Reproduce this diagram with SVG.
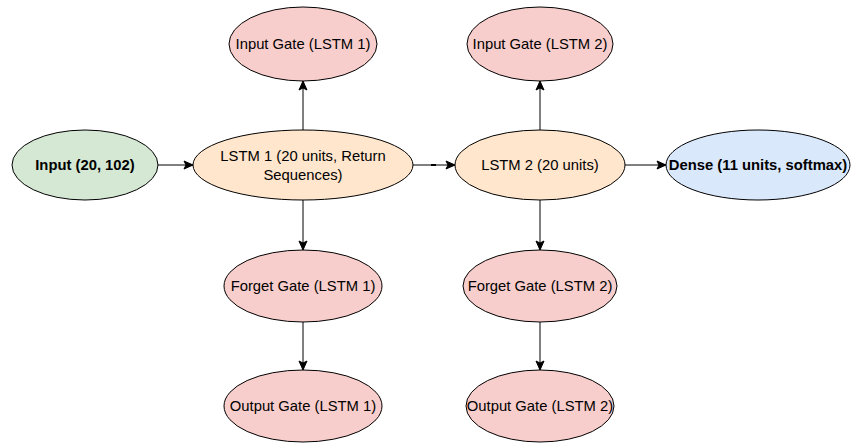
<svg xmlns="http://www.w3.org/2000/svg" width="854" height="444" viewBox="0 0 854 444">
<style>
  .n { stroke: #000; stroke-width: 1; }
  .green { fill: #d5e8d4; }
  .orange { fill: #ffe6cc; }
  .red { fill: #f8cecc; }
  .blue { fill: #dae8fc; }
  text { font-family: "Liberation Sans", Arial, Helvetica, sans-serif; font-size: 14.8px; fill: #000; text-anchor: middle; dominant-baseline: central; }
  .b { font-weight: bold; }
  .e { stroke: #000; stroke-width: 1; fill: none; marker-end: url(#arr); }
</style>
<defs>
  <marker id="arr" markerUnits="userSpaceOnUse" markerWidth="11" markerHeight="11" viewBox="0 0 11 11" refX="10" refY="5.5" orient="auto">
    <path d="M1,1.5 L10,5.5 L1,9.5 L3,5.5 z" fill="#000" stroke="#000" stroke-width="1"/>
  </marker>
</defs>
<rect width="854" height="444" fill="#fff"/>
<g id="connectors">
  <line class="e" x1="158" y1="165" x2="193" y2="165"/>
  <line class="e" x1="413" y1="165" x2="455" y2="165"/>
  <line x1="431" y1="165" x2="436" y2="165" stroke="#000" stroke-width="2"/>
  <line class="e" x1="625" y1="165" x2="666" y2="165"/>
  <line class="e" x1="303" y1="130" x2="303" y2="81"/>
  <line class="e" x1="303" y1="200" x2="303" y2="250"/>
  <line class="e" x1="303" y1="322" x2="303" y2="370"/>
  <line class="e" x1="540" y1="130" x2="540" y2="81"/>
  <line class="e" x1="540" y1="200" x2="540" y2="250"/>
  <line class="e" x1="540" y1="322" x2="540" y2="370"/>
</g>
<g id="input">
  <ellipse class="n green" cx="85" cy="165" rx="73" ry="35"/>
  <text class="b" x="85" y="165">Input (20, 102)</text>
</g>
<g id="lstm1">
  <ellipse class="n orange" cx="303" cy="165" rx="110" ry="35"/>
  <text x="303" y="156">LSTM 1 (20 units, Return</text>
  <text x="303" y="175">Sequences)</text>
</g>
<g id="lstm2">
  <ellipse class="n orange" cx="540" cy="165" rx="85" ry="35"/>
  <text x="540" y="165">LSTM 2 (20 units)</text>
</g>
<g id="dense">
  <ellipse class="n blue" cx="758" cy="165" rx="92" ry="35"/>
  <text class="b" x="758" y="165">Dense (11 units, softmax)</text>
</g>
<g id="input-gate-1">
  <ellipse class="n red" cx="303" cy="44" rx="74" ry="37"/>
  <text x="303" y="44">Input Gate (LSTM 1)</text>
</g>
<g id="forget-gate-1">
  <ellipse class="n red" cx="303" cy="286" rx="79" ry="36"/>
  <text x="303" y="286">Forget Gate (LSTM 1)</text>
</g>
<g id="output-gate-1">
  <ellipse class="n red" cx="303" cy="406" rx="79" ry="36"/>
  <text x="303" y="406">Output Gate (LSTM 1)</text>
</g>
<g id="input-gate-2">
  <ellipse class="n red" cx="540" cy="44" rx="73" ry="37"/>
  <text x="540" y="44">Input Gate (LSTM 2)</text>
</g>
<g id="forget-gate-2">
  <ellipse class="n red" cx="540" cy="286" rx="77" ry="36"/>
  <text x="540" y="286">Forget Gate (LSTM 2)</text>
</g>
<g id="output-gate-2">
  <ellipse class="n red" cx="540" cy="406" rx="74" ry="36"/>
  <text x="540" y="406">Output Gate (LSTM 2)</text>
</g>
</svg>
